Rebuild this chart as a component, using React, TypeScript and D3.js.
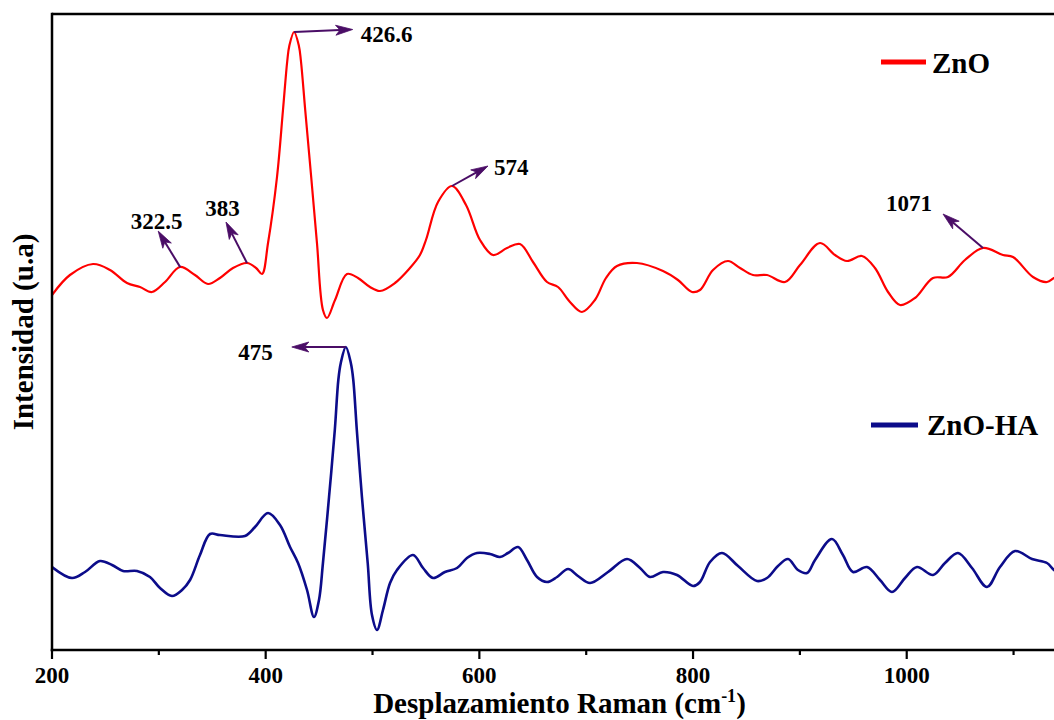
import React from "react";
import * as d3 from "d3";

// ---------- data (Raman shift in cm^-1, intensity in arbitrary units) ----------
const znoShift = [
  200, 216.8, 238.4, 254.3, 270.2, 282.4, 293.6, 305.8, 319.8, 333.8, 346, 357.2, 369.4, 382.5, 391, 396.6,
  402.2, 410.6, 416.2, 420.2, 422.1, 426.6, 431.1, 433, 437, 442.6, 448, 453.6, 457.4, 464.9, 476.1, 486.4, 497.6, 507, 521, 535,
  544.4, 550, 561.3, 574.4, 587.5, 600.6, 612.8, 625.9, 638, 650.2, 663.3, 673.6, 684.8, 696, 708.2, 718.5,
  728.8, 747.5, 771.9, 785.9, 799, 806.5, 818.7, 832.7, 844, 856.1, 869.2, 886.1, 900.1, 918.8, 932.9, 944.1,
  958.1, 970.3, 982.5, 993.7, 1007.7, 1024.6, 1038.6, 1054.5, 1071.4, 1090.1, 1099.5, 1118.2, 1131.3, 1137.8, 1150,
];
const znoIntensity = [
  355, 375, 386, 380, 367, 363, 358, 368, 383, 375, 366, 372, 382, 387, 382, 376,
  407, 473, 540, 589, 604, 618, 604, 589, 540, 473, 407, 340, 332, 350, 376, 372, 363, 359, 367, 382,
  395, 410, 448, 464, 445, 410, 395, 402, 406, 388, 368, 363, 348, 338, 350, 372,
  384, 387, 379, 370, 358, 360, 380, 389, 382, 375, 375, 368, 385, 407, 395, 389,
  394, 382, 358, 345, 352, 372, 373, 390, 402, 395, 393, 373, 368, 372, 380,
];

const znoHaShift = [
  200, 218.7, 230.9, 244.9, 256.2, 266.5, 279.6, 291.7, 301.1, 312.3, 321.7, 329.2, 338.5, 347.9, 357.2, 380.6,
  390, 402.2, 413.4, 422.8, 430.3, 438.7, 445.2, 449.9, 453.6, 459.3, 464.7, 468, 470.3, 475, 479.7, 482, 485.3, 490.1, 495.5, 499.5,
  504.2, 509.8, 516.4, 522.9, 537.9, 547.3, 556.6, 567.8, 579.1, 588.4, 597.8, 610, 619.3, 626.8, 636.2, 644.6,
  654, 663.3, 672.7, 683, 692.3, 703.6, 720.4, 738.2, 750.4, 759.7, 771.9, 785, 800, 806.5, 815.9, 827.1,
  842.1, 859.9, 869.2, 879.5, 888.9, 898.2, 906.7, 914.2, 930, 940.3, 949.7, 962.8, 975, 986.2, 998.4, 1009.6,
  1024.6, 1035.8, 1048, 1061.1, 1075.1, 1087.3, 1101.4, 1117.3, 1131.3, 1137.8, 1150,
];
const znoHaIntensity = [
  83, 72, 78, 89, 85, 79, 79, 73, 62, 54, 60, 70, 95, 116, 115, 114,
  123, 137, 125, 103, 87, 60, 33, 50, 87, 153, 220, 270, 287, 303, 287, 270, 220, 153, 87, 35,
  20, 40, 67, 80, 95, 82, 72, 78, 82, 92, 97, 96, 93, 97, 103, 90,
  73, 68, 73, 81, 74, 67, 78, 91, 82, 73, 78, 75, 64, 68, 88, 97,
  84, 69, 72, 84, 91, 80, 77, 90, 111, 95, 78, 83, 70, 58, 72, 83,
  75, 87, 97, 82, 63, 83, 99, 91, 87, 80, 72,
];

const seriesNames = ["ZnO", "ZnO-HA"];
const xMajorTicks = [200, 400, 600, 800, 1000];
const xMinorTicks = [300, 500, 700, 900, 1100];

const peakLabels = ["322.5", "383", "426.6", "574", "1071", "475"];
const peakShifts = [320, 382.5, 426.6, 574.4, 1071.4, 475];
const peakSeries = [0, 0, 0, 0, 0, 1];

const xTitle = "Desplazamiento Raman (cm";
const yTitle = "Intensidad (u.a)";

// ---------- styling / layout ----------
const W = 1054;
const H = 720;
const LEFT = 52;
const TOP = 14;
const BOTTOM = 650;
const PX_PER_UNIT = 1.0684;
const FONT = "'Liberation Serif', 'Times New Roman', serif";
const colors = ["#ff0000", "#0c0c8a"];
const lineWidths = [2.2, 2.6];
const ARROW = "#4a0d66";

// arrow geometry relative to the peak (tip offset) and label offset relative to the tip
const annot = [
  { dx: -22, dy: -36, tx: -1.5, ty: -2, anchor: "middle" },
  { dx: -21, dy: -41, tx: -3.5, ty: -6, anchor: "middle" },
  { dx: 58.6, dy: -2.5, tx: 8, ty: 12.5, anchor: "start" },
  { dx: 36, dy: -20, tx: 6, ty: 9, anchor: "start" },
  { dx: -40, dy: -34, tx: -34, ty: -3, anchor: "middle" },
  { dx: -54, dy: 0, tx: -19, ty: 13, anchor: "end" },
];

const legendPos = [
  { x1: 881, x2: 926, y: 62, tx: 932, ty: 73 },
  { x1: 871, x2: 918, y: 425, tx: 927, ty: 435 },
];

function interp(xs: number[], ys: number[], v: number) {
  const i = d3.bisectLeft(xs, v);
  if (i <= 0) return ys[0];
  if (i >= xs.length) return ys[ys.length - 1];
  const t = (v - xs[i - 1]) / (xs[i] - xs[i - 1]);
  return ys[i - 1] + t * (ys[i] - ys[i - 1]);
}

function Arrow({ x1, y1, x2, y2 }: { x1: number; y1: number; x2: number; y2: number }) {
  const len = Math.hypot(x2 - x1, y2 - y1);
  const ux = (x2 - x1) / len;
  const uy = (y2 - y1) / len;
  const nx = -uy;
  const ny = ux;
  const hl = 17;
  const hw = 5;
  const bx = x2 - ux * hl;
  const by = y2 - uy * hl;
  const notchX = x2 - ux * hl * 0.75;
  const notchY = y2 - uy * hl * 0.75;
  const head = `M${x2},${y2} L${bx + nx * hw},${by + ny * hw} L${notchX},${notchY} L${bx - nx * hw},${by - ny * hw} Z`;
  return (
    <g>
      <line x1={x1} y1={y1} x2={notchX} y2={notchY} stroke={ARROW} strokeWidth={2} />
      <path d={head} fill={ARROW} stroke={ARROW} strokeWidth={0.8} strokeLinejoin="miter" />
    </g>
  );
}

export default function App() {
  const x = d3.scaleLinear().domain([200, 1150]).range([LEFT, LEFT + 950 * PX_PER_UNIT]);
  const y = d3.scaleLinear().domain([0, 636]).range([BOTTOM, TOP]);

  const shifts = [znoShift, znoHaShift];
  const intens = [znoIntensity, znoHaIntensity];

  const line = d3
    .line<[number, number]>()
    .x((d) => x(d[0]))
    .y((d) => y(d[1]))
    .curve(d3.curveCatmullRom.alpha(0.5));

  const paths = shifts.map((xs, s) => line(xs.map((v, i) => [v, intens[s][i]] as [number, number])) || "");

  return (
    <svg
      width={W}
      height={H}
      style={{ position: "absolute", left: 0, top: 0, background: "#fff", display: "block" }}
      fontFamily={FONT}
    >
      <rect x={0} y={0} width={W} height={H} fill="#fff" />
      <defs>
        <clipPath id="plot">
          <rect x={LEFT} y={TOP} width={W - LEFT} height={BOTTOM - TOP} />
        </clipPath>
      </defs>

      {/* series */}
      <g clipPath="url(#plot)">
        {paths.map((d, s) => (
          <path key={s} d={d} fill="none" stroke={colors[s]} strokeWidth={lineWidths[s]} strokeLinejoin="round" />
        ))}
      </g>

      {/* frame */}
      <line x1={LEFT} y1={TOP} x2={W} y2={TOP} stroke="#000" strokeWidth={2.5} />
      <line x1={LEFT} y1={TOP - 1.25} x2={LEFT} y2={BOTTOM + 1.25} stroke="#000" strokeWidth={2.5} />
      <line x1={LEFT - 1.25} y1={BOTTOM} x2={W} y2={BOTTOM} stroke="#000" strokeWidth={2.5} />

      {/* ticks */}
      {xMajorTicks.map((t) => (
        <g key={"M" + t}>
          <line x1={x(t)} x2={x(t)} y1={BOTTOM} y2={BOTTOM + 9} stroke="#000" strokeWidth={2.2} />
          <text x={x(t)} y={683} textAnchor="middle" fontSize={23} fontWeight="bold">
            {t}
          </text>
        </g>
      ))}
      {xMinorTicks.map((t) => (
        <line key={"m" + t} x1={x(t)} x2={x(t)} y1={BOTTOM} y2={BOTTOM + 5} stroke="#000" strokeWidth={2.2} />
      ))}

      {/* axis titles */}
      <text x={(LEFT + x(1150)) / 2} y={713} textAnchor="middle" fontSize={29} fontWeight="bold">
        {xTitle}
        <tspan dy={-11} fontSize={18}>-1</tspan>
        <tspan dy={11}>)</tspan>
      </text>
      <text
        transform={`translate(33, ${(TOP + BOTTOM) / 2}) rotate(-90)`}
        textAnchor="middle"
        fontSize={29}
        fontWeight="bold"
      >
        {yTitle}
      </text>

      {/* peak annotations */}
      {peakLabels.map((lab, k) => {
        const s = peakSeries[k];
        const w = peakShifts[k];
        const ax = x(w);
        const ay = y(interp(shifts[s], intens[s], w));
        const a = annot[k];
        const tx = ax + a.dx;
        const ty = ay + a.dy;
        return (
          <g key={lab}>
            <Arrow x1={ax} y1={ay} x2={tx} y2={ty} />
            <text x={tx + a.tx} y={ty + a.ty} textAnchor={a.anchor} fontSize={23} fontWeight="bold">
              {lab}
            </text>
          </g>
        );
      })}

      {/* legend */}
      {seriesNames.map((n, s) => {
        const p = legendPos[s];
        return (
          <g key={n}>
            <line x1={p.x1} x2={p.x2} y1={p.y} y2={p.y} stroke={colors[s]} strokeWidth={5} />
            <text x={p.tx} y={p.ty} fontSize={29} fontWeight="bold">
              {n}
            </text>
          </g>
        );
      })}
    </svg>
  );
}
